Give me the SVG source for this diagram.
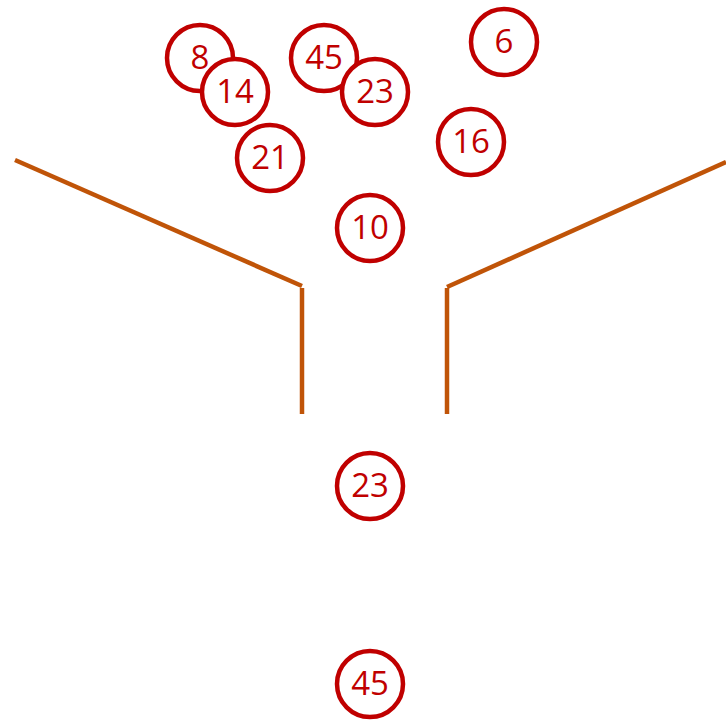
<svg xmlns="http://www.w3.org/2000/svg" width="726" height="720" viewBox="0 0 726 720">
<style>
.n circle{fill:none;stroke:#c00000;stroke-width:4.5}
.n text{fill:#c00000;font-family:"Open Sans","Liberation Sans",sans-serif;font-size:33px;text-anchor:middle}
.w{fill:none;stroke:#c05408;stroke-width:4.5}
</style>
<rect width="726" height="720" fill="#fff"/>
<g id="connectors">
<polyline class="w" points="15,160 302,286"/>
<line class="w" x1="302" y1="288" x2="302" y2="414"/>
<polyline class="w" points="726,162 447,287"/>
<line class="w" x1="447" y1="288" x2="447" y2="414"/>
</g>
<g id="n8" class="n"><circle cx="200" cy="58" r="33" fill="#fff"/><text x="200" y="69">8</text></g>
<g id="n14" class="n"><circle cx="235" cy="92" r="33" style="fill:#fff"/><text x="235" y="103">14</text></g>
<g id="n45a" class="n"><circle cx="324" cy="58" r="33" style="fill:#fff"/><text x="324" y="69">45</text></g>
<g id="n23a" class="n"><circle cx="375" cy="92" r="33" style="fill:#fff"/><text x="375" y="103">23</text></g>
<g id="n6" class="n"><circle cx="504" cy="42" r="33"/><text x="504" y="53">6</text></g>
<g id="n16" class="n"><circle cx="471" cy="142" r="33"/><text x="471" y="153">16</text></g>
<g id="n21" class="n"><circle cx="270" cy="158" r="33"/><text x="270" y="169">21</text></g>
<g id="n10" class="n"><circle cx="370" cy="228" r="33"/><text x="370" y="239">10</text></g>
<g id="n23b" class="n"><circle cx="370" cy="486" r="33"/><text x="370" y="497">23</text></g>
<g id="n45b" class="n"><circle cx="370" cy="684" r="33"/><text x="370" y="695">45</text></g>
</svg>
